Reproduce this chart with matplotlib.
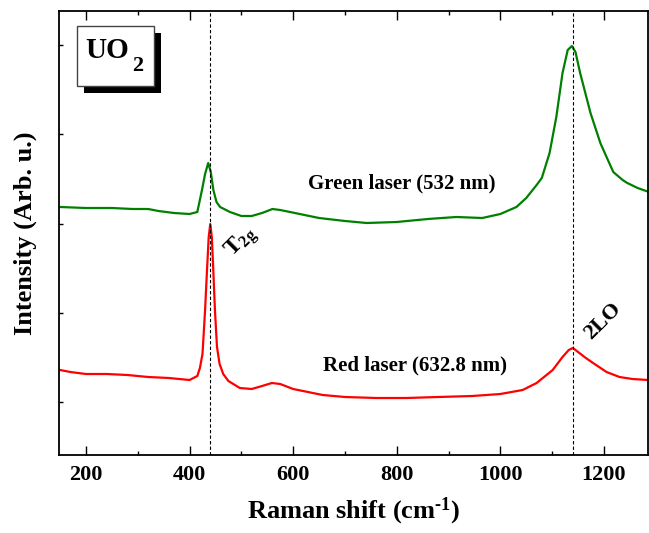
import matplotlib
matplotlib.use("Agg")
import matplotlib.pyplot as plt
from matplotlib.patches import Rectangle
from matplotlib.ticker import MultipleLocator

plt.rcParams["font.family"] = ["Liberation Serif", "DejaVu Serif"]
plt.rcParams["font.weight"] = "bold"
plt.rcParams["mathtext.fontset"] = "custom"
plt.rcParams["mathtext.rm"] = "Liberation Serif:bold"
plt.rcParams["mathtext.it"] = "Liberation Serif:bold:italic"
plt.rcParams["mathtext.bf"] = "Liberation Serif:bold"
plt.rcParams["mathtext.default"] = "rm"

# Raman spectra of UO2 (arbitrary intensity units)
green_shift = [150, 200, 250, 290, 320, 340, 370, 400, 415, 424, 430, 436, 441,
               446, 452, 459, 478, 500, 520, 540, 560, 575, 594, 650, 700, 742, 800,
               860, 915, 965, 1000, 1031, 1050, 1070, 1080, 1095, 1108, 1120, 1130,
               1138, 1145, 1154, 1164, 1174, 1193, 1205, 1218, 1236, 1245, 1265, 1287]
green_int = [195, 194, 194, 193, 193, 191, 189, 188, 190, 212, 228, 239, 230,
             212, 200, 195, 190, 186, 186, 189, 193, 192, 190, 184, 181, 179, 180,
             183, 185, 184, 188, 195, 204, 217, 224, 249, 285, 329, 352,
             356, 350, 329, 309, 289, 259, 245, 230, 222, 219, 214, 210]

red_shift = [150, 170, 200, 240, 280, 320, 360, 400, 415, 420, 425, 430, 434, 437,
             440, 443, 446, 449, 453, 458, 465, 475, 497, 520, 540, 559, 575, 600,
             657, 700, 760, 819, 880, 946, 1000, 1043, 1070, 1101, 1120, 1132, 1140,
             1150, 1165, 1179, 1205, 1230, 1255, 1285]
red_int = [32, 30, 28, 28, 27, 25, 24, 22, 26, 34, 48, 92, 135, 165,
           178, 165, 130, 92, 55, 38, 28, 21, 14, 13, 16, 19, 18, 13,
           7, 5, 4, 4, 5, 6, 8, 12, 19, 32, 45, 52, 54,
           50, 44, 39, 30, 25, 23, 22]

mode_positions = [440, 1140]
xtick_values = [200, 400, 600, 800, 1000, 1200]

fig = plt.figure(figsize=(6.49, 5.33), dpi=100)
ax = fig.add_axes([59 / 649, 1 - 455 / 533, 589 / 649, 444 / 533])

ax.plot(green_shift, green_int, color="#008000", lw=1.6)
ax.plot(red_shift, red_int, color="#ff0000", lw=1.6)
for xm in mode_positions:
    ax.axvline(xm, color="black", lw=0.8, ls=(0, (3, 2)))

ax.set_xlim(148, 1285)
ax.set_ylim(-53, 391)
ax.set_xticks(xtick_values)
ax.xaxis.set_minor_locator(MultipleLocator(100))
ax.yaxis.set_major_locator(MultipleLocator(89.25))
ax.set_yticklabels([])
ax.tick_params(axis="x", which="major", direction="in", length=6.5, width=1.0,
               top=True, labelsize=16, pad=7)
ax.tick_params(axis="x", which="minor", direction="in", length=3, width=1.0, top=True)
ax.tick_params(axis="y", which="major", direction="in", length=3, width=1.0)
for lab in ax.get_xticklabels():
    lab.set_fontweight("bold")
for sp in ax.spines.values():
    sp.set_linewidth(1.3)

ax.set_xlabel("Raman shift (cm$^{\u2010\\mathrm{1}}$)", fontsize=19, fontweight="bold",
              labelpad=8)
ax.set_ylabel("Intensity (Arb. u.)", fontsize=19, fontweight="bold", labelpad=12)

ax.text(810, 219, "Green laser (532 nm)", fontsize=15, fontweight="bold",
        ha="center", va="center")
ax.text(835, 37, "Red laser (632.8 nm)", fontsize=15, fontweight="bold",
        ha="center", va="center")
ax.text(500, 160, r"T$_{\mathrm{2g}}$", fontsize=17, fontweight="bold",
        ha="center", va="center", rotation=45)
ax.text(1198, 81, "2LO", fontsize=16, fontweight="bold",
        ha="center", va="center", rotation=45)

# sample label with drop shadow
fig_tr = fig.transFigure
shadow = Rectangle((84 / 649, 1 - 93 / 533), 77 / 649, 60 / 533, transform=fig_tr,
                   facecolor="black", edgecolor="none", zorder=5)
box = Rectangle((77 / 649, 1 - 86 / 533), 77 / 649, 60 / 533, transform=fig_tr,
                facecolor="white", edgecolor="#444444", lw=1.0, zorder=6)
fig.patches.extend([shadow, box])
fig.text(107 / 649, 1 - 51 / 533, "UO", fontsize=21, fontweight="bold",
         ha="center", va="center", zorder=7)
fig.text(138 / 649, 1 - 66 / 533, "2", fontsize=16, fontweight="bold",
         ha="center", va="center", zorder=7)

fig.savefig("out.png", dpi=100)
